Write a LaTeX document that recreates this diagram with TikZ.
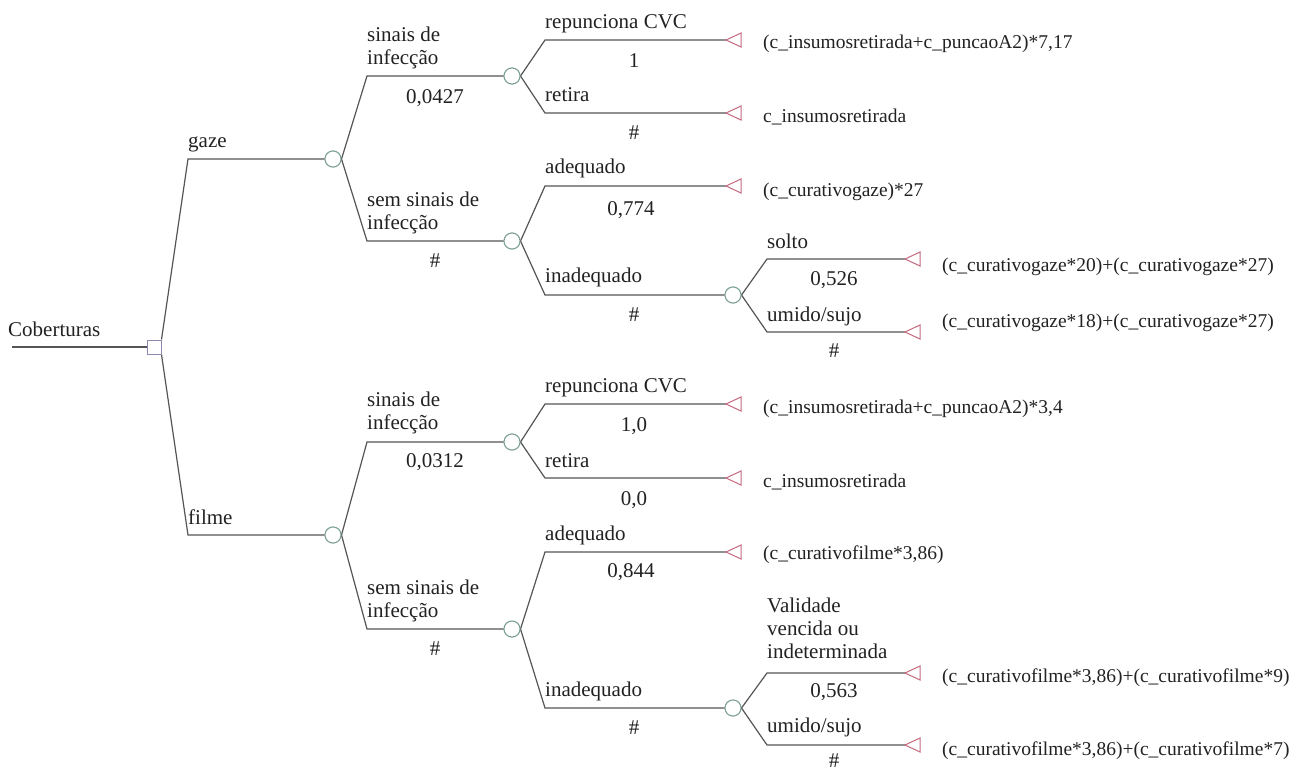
\documentclass[tikz,border=0pt]{standalone}
\usepackage{fontspec}
\setmainfont{Liberation Serif}
\definecolor{edgecol}{HTML}{555555}
\definecolor{chancecol}{HTML}{7FA393}
\definecolor{termcol}{HTML}{C46A7E}
\definecolor{deccol}{HTML}{8A8AAE}
\definecolor{txtcol}{HTML}{222222}
\newcommand\myfs{\fontsize{21}{23}\selectfont}
\newcommand\payfs{\fontsize{19.5}{22.5}\selectfont}
\begin{document}
\begin{tikzpicture}[x=1pt,y=-1pt,
  branch/.style={draw=edgecol, line width=1.2pt},
  chancenode/.style={circle, draw=chancecol, fill=white, line width=1pt, minimum size=16pt, inner sep=0pt},
  decnode/.style={rectangle, draw=deccol, fill=white, line width=1pt, minimum size=14pt, inner sep=0pt},
  termtri/.style={draw=termcol, fill=white, line width=1pt, line join=miter},
  lbl/.style={anchor=base west, inner sep=0pt, font=\myfs, align=left, text=txtcol},
  prob/.style={anchor=base, inner sep=0pt, font=\myfs, text=txtcol},
  payoff/.style={anchor=base west, inner sep=0pt, font=\payfs, text=txtcol}]
\useasboundingbox (0,0) rectangle (1296,769);
\fill[white] (0,0) rectangle (1296,769);

% root
\coordinate (root) at (12,347);
\node[decnode] (sq) at (154,347) {};
\node[lbl] (lroot) at (8,336) {Coberturas};
\draw[branch] (root) -- (sq.west);

% chance nodes
\node[chancenode] (G) at (333,159) {};
\node[chancenode] (GS) at (512,76) {};
\node[chancenode] (GN) at (512,241) {};
\node[chancenode] (GNI) at (733,295) {};
\node[chancenode] (F) at (333,535) {};
\node[chancenode] (FS) at (512,442) {};
\node[chancenode] (FN) at (512,629) {};
\node[chancenode] (FNI) at (733,708) {};

% corners
\coordinate (cgaze) at (188,159);
\coordinate (cfilme) at (188,535);
\coordinate (cgs) at (367,76);
\coordinate (cgn) at (367,241);
\coordinate (cfs) at (367,442);
\coordinate (cfn) at (367,629);
\coordinate (cgs1) at (545,40);
\coordinate (cgs2) at (545,113);
\coordinate (cgn1) at (545,186);
\coordinate (cgn2) at (545,295);
\coordinate (cfs1) at (545,404);
\coordinate (cfs2) at (545,478);
\coordinate (cfn1) at (545,552);
\coordinate (cfn2) at (545,708);
\coordinate (cgni1) at (767,259);
\coordinate (cgni2) at (767,332);
\coordinate (cfni1) at (767,673);
\coordinate (cfni2) at (767,745);

% terminal tips
\coordinate (tA) at (726,40);
\coordinate (tB) at (726,113);
\coordinate (tC) at (726,186);
\coordinate (tD) at (905,259);
\coordinate (tE) at (905,332);
\coordinate (tF) at (726,404);
\coordinate (tG) at (726,478);
\coordinate (tH) at (726,552);
\coordinate (tI) at (905,673);
\coordinate (tJ) at (905,745);

% branches
\draw[branch] (sq.north east) -- (cgaze) -- (G.west);
\draw[branch] (sq.south east) -- (cfilme) -- (F.west);
\draw[branch] (G.east) -- (cgs) -- (GS.west);
\draw[branch] (G.east) -- (cgn) -- (GN.west);
\draw[branch] (F.east) -- (cfs) -- (FS.west);
\draw[branch] (F.east) -- (cfn) -- (FN.west);
\draw[branch] (GS.east) -- (cgs1) -- (tA);
\draw[branch] (GS.east) -- (cgs2) -- (tB);
\draw[branch] (GN.east) -- (cgn1) -- (tC);
\draw[branch] (GN.east) -- (cgn2) -- (GNI.west);
\draw[branch] (GNI.east) -- (cgni1) -- (tD);
\draw[branch] (GNI.east) -- (cgni2) -- (tE);
\draw[branch] (FS.east) -- (cfs1) -- (tF);
\draw[branch] (FS.east) -- (cfs2) -- (tG);
\draw[branch] (FN.east) -- (cfn1) -- (tH);
\draw[branch] (FN.east) -- (cfn2) -- (FNI.west);
\draw[branch] (FNI.east) -- (cfni1) -- (tI);
\draw[branch] (FNI.east) -- (cfni2) -- (tJ);

% redraw nodes on top
\node[decnode] at (sq) {};
\foreach \n in {G,GS,GN,GNI,F,FS,FN,FNI} { \node[chancenode] at (\n) {}; }

% terminal triangles
\foreach \t in {tA,tB,tC,tD,tE,tF,tG,tH,tI,tJ} {
  \draw[termtri] (\t) -- ++(15,-7) -- ++(0,14) -- cycle;
}

% labels level 1
\node[lbl] (lgaze) at (188,147) {gaze};
\node[lbl] (lfilme) at (188,524) {filme};

% level 2
\node[lbl] (lgs) at (367,64) {sinais de\\infecção};
\node[prob] (pgs) at (435,103) {0,0427};
\node[lbl] (lgn) at (367,229) {sem sinais de\\infecção};
\node[prob] (pgn) at (435,267) {\#};
\node[lbl] (lfs) at (367,429) {sinais de\\infecção};
\node[prob] (pfs) at (435,467) {0,0312};
\node[lbl] (lfn) at (367,617) {sem sinais de\\infecção};
\node[prob] (pfn) at (435,655) {\#};

% level 3 gaze
\node[lbl] (lgs1) at (545,28) {repunciona CVC};
\node[prob] (pgs1) at (634,67) {1};
\node[lbl] (lgs2) at (545,101) {retira};
\node[prob] (pgs2) at (634,139) {\#};
\node[lbl] (lgn1) at (545,173) {adequado};
\node[prob] (pgn1) at (631,215) {0,774};
\node[lbl] (lgn2) at (545,282) {inadequado};
\node[prob] (pgn2) at (634,321) {\#};

% level 3 filme
\node[lbl] (lfs1) at (545,392) {repunciona CVC};
\node[prob] (pfs1) at (634,431) {1,0};
\node[lbl] (lfs2) at (545,467) {retira};
\node[prob] (pfs2) at (634,505) {0,0};
\node[lbl] (lfn1) at (545,540) {adequado};
\node[prob] (pfn1) at (631,577) {0,844};
\node[lbl] (lfn2) at (545,696) {inadequado};
\node[prob] (pfn2) at (634,734) {\#};

% level 4
\node[lbl] (lgni1) at (767,248) {solto};
\node[prob] (pgni1) at (834,285) {0,526};
\node[lbl] (lgni2) at (767,321) {umido/sujo};
\node[prob] (pgni2) at (834,357) {\#};
\node[lbl] (lfni1) at (767,658) {Validade\\vencida ou\\indeterminada};
\node[prob] (pfni1) at (834,697) {0,563};
\node[lbl] (lfni2) at (767,732) {umido/sujo};
\node[prob] (pfni2) at (834,767) {\#};

% payoffs
\node[payoff] (vA) at (763,48) {(c\_insumosretirada+c\_puncaoA2)*7,17};
\node[payoff] (vB) at (763,122) {c\_insumosretirada};
\node[payoff] (vC) at (763,196) {(c\_curativogaze)*27};
\node[payoff] (vD) at (942,271) {(c\_curativogaze*20)+(c\_curativogaze*27)};
\node[payoff] (vE) at (942,327) {(c\_curativogaze*18)+(c\_curativogaze*27)};
\node[payoff] (vF) at (763,413) {(c\_insumosretirada+c\_puncaoA2)*3,4};
\node[payoff] (vG) at (763,487) {c\_insumosretirada};
\node[payoff] (vH) at (763,559) {(c\_curativofilme*3,86)};
\node[payoff] (vI) at (942,682) {(c\_curativofilme*3,86)+(c\_curativofilme*9)};
\node[payoff] (vJ) at (942,755) {(c\_curativofilme*3,86)+(c\_curativofilme*7)};
\end{tikzpicture}
\end{document}
